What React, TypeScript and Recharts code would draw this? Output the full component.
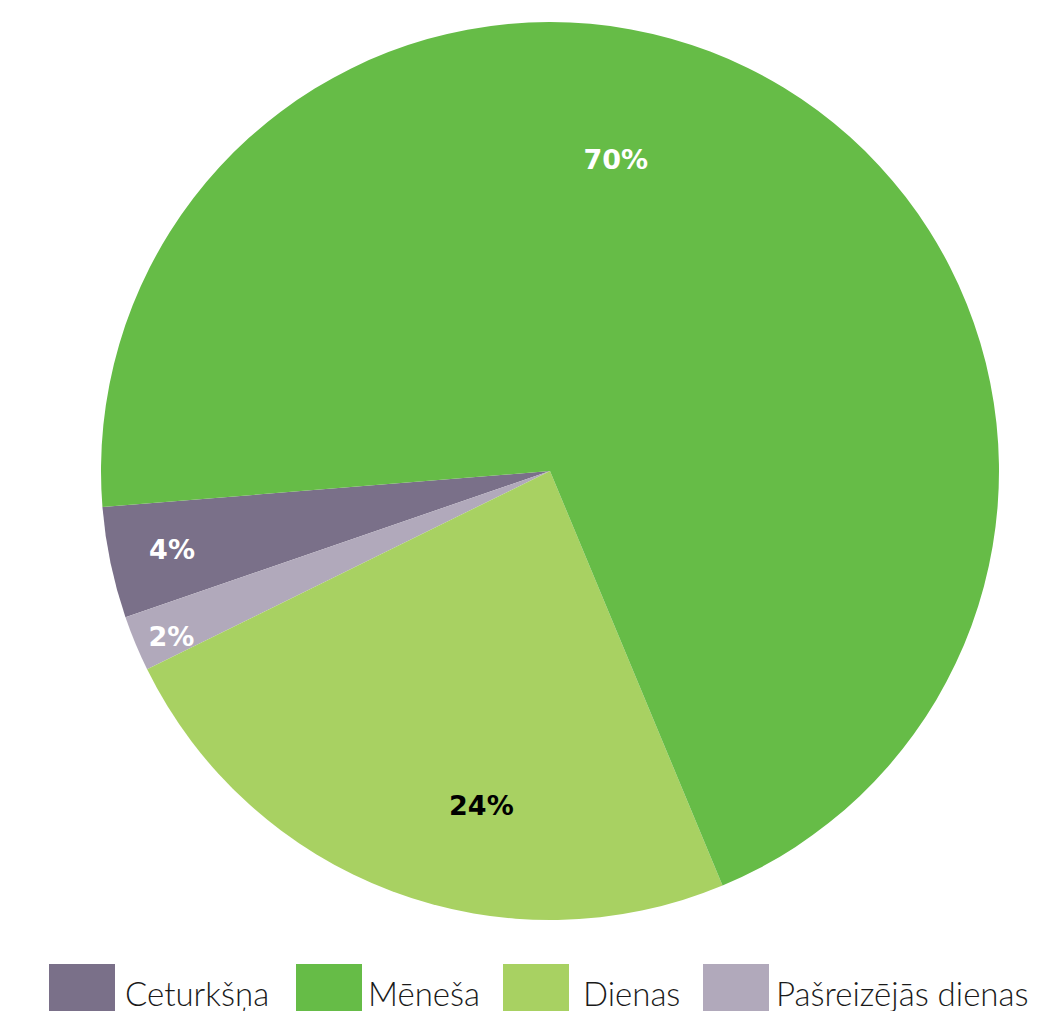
import { PieChart, Pie, Cell } from "recharts";

const categories = ["Ceturkšņa", "Pašreizējās dienas", "Dienas", "Mēneša"];
const shares = [4, 2, 24, 70];
const colors = ["#7a7089", "#b1a9bb", "#a8d162", "#66bc47"];
const labelColors = ["#ffffff", "#ffffff", "#000000", "#ffffff"];
const legendOrder = ["Ceturkšņa", "Mēneša", "Dienas", "Pašreizējās dienas"];

const data = categories.map((name, i) => ({ name, value: shares[i] }));

// label placement tweaks (radius fraction, angle shift in degrees)
const labelPlace: Record<string, { r: number; shift: number }> = {
  "Ceturkšņa": { r: 0.86, shift: 0 },
  "Pašreizējās dienas": { r: 0.92, shift: 1 },
  "Dienas": { r: 0.76, shift: 9 },
  "Mēneša": { r: 0.71, shift: 19.5 },
};

const RADIAN = Math.PI / 180;

function renderLabel(props: any) {
  const { cx, cy, midAngle, outerRadius, index, name, value } = props;
  const p = labelPlace[name] || { r: 0.7, shift: 0 };
  const a = (midAngle + p.shift) * RADIAN;
  const rr = outerRadius * p.r;
  const x = cx + rr * Math.cos(a);
  const y = cy - rr * Math.sin(a);
  return (
    <text
      x={x}
      y={y}
      fill={labelColors[index]}
      textAnchor="middle"
      dominantBaseline="central"
      fontFamily="'DejaVu Sans', sans-serif"
      fontWeight={700}
      fontSize={27}
    >
      {value}%
    </text>
  );
}

function LegendBox() {
  const offsets = [49, 296, 503, 703];
  const textX = [125, 368, 583, 776];
  return (
    <div style={{ position: "absolute", left: 0, top: 964, width: 1042, height: 47 }}>
      {legendOrder.map((name, i) => (
        <div key={name}>
          <div
            style={{
              position: "absolute",
              left: offsets[i],
              top: 0,
              width: 66,
              height: 47,
              background: colors[categories.indexOf(name)],
            }}
          />
          <span
            style={{
              position: "absolute",
              left: textX[i],
              top: 13,
              fontFamily: "Lato, sans-serif",
              fontWeight: 300,
              fontSize: 33,
              lineHeight: "33px",
              color: "#1a1a1a",
              whiteSpace: "nowrap",
            }}
          >
            {name}
          </span>
        </div>
      ))}
    </div>
  );
}

export default function App() {
  return (
    <div style={{ position: "absolute", left: 0, top: 0, width: 1042, height: 1011, overflow: "hidden", background: "#fff" }}>
      <PieChart width={1042} height={960} margin={{ top: 0, right: 0, bottom: 0, left: 0 }}>
        <Pie
          data={data}
          dataKey="value"
          nameKey="name"
          cx={550}
          cy={471}
          outerRadius={449}
          startAngle={184.6}
          endAngle={544.6}
          stroke="none"
          label={renderLabel}
          labelLine={false}
          isAnimationActive={false}
        >
          {data.map((d, i) => (
            <Cell key={d.name} fill={colors[i]} />
          ))}
        </Pie>
      </PieChart>
      <LegendBox />
    </div>
  );
}
